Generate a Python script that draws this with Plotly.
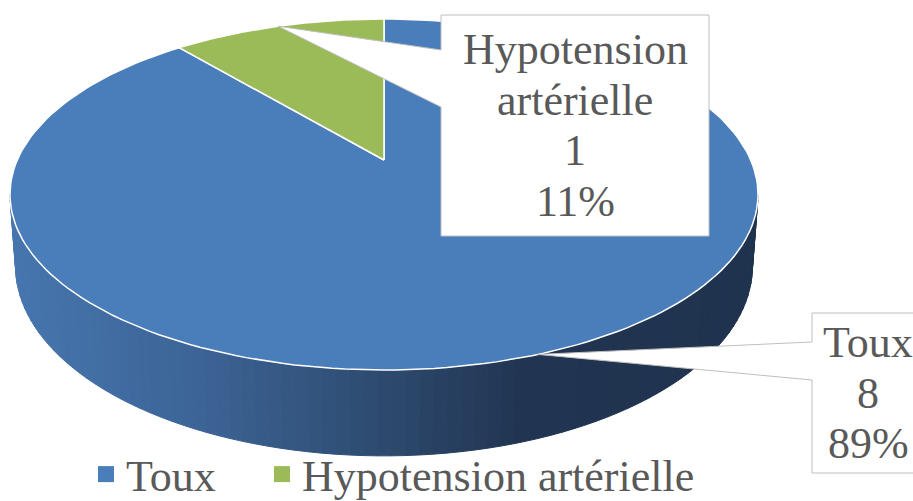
import numpy as np
import plotly.graph_objects as go

# ---------------- data ----------------
categories = ["Toux", "Hypotension artérielle"]
values = [8, 1]
colors = ["#4a7ebb", "#9bbb59"]

# ---------------- 3D pie geometry (pixel space) ----------------
CX, CY = 384.0, 160.0      # projected pie centre
A, B = 366.7, 168.7        # half axes before perspective
K = -0.1966                # perspective factor
S = 0.985                  # bottom face shrink
D0 = 69.0                  # thickness

FONT = "'Liberation Serif', 'Times New Roman', 'DejaVu Serif', serif"
TXT = "#595959"


def proj(phi_deg, bottom=False):
    p = np.radians(np.asarray(phi_deg, dtype=float))
    X = np.sin(p)
    Y = -np.cos(p)
    den = 1 + K * Y
    u = CX + A * X / den * (S if bottom else 1.0)
    v = CY + B * Y / den + (D0 / den if bottom else 0.0)
    return u, v


total = float(sum(values))
fracs = [v / total for v in values]
starts = np.concatenate([[0.0], np.cumsum(fracs)[:-1]]) * 360.0
ends = np.cumsum(fracs) * 360.0

fig = go.Figure()

# ---- side wall (visible front part) with horizontal shading ----
phi_r = np.degrees(np.arccos(K))          # right silhouette
phi_l = 360.0 - phi_r                     # left silhouette

stops = [(0.0, (70, 118, 174)), (0.25, (60, 100, 150)), (0.5, (45, 74, 110)),
         (0.68, (33, 53, 82)), (1.0, (31, 50, 78))]


def grad(t):
    t = min(max(t, 0), 1)
    for (t0, c0), (t1, c1) in zip(stops[:-1], stops[1:]):
        if t0 <= t <= t1:
            f = (t - t0) / (t1 - t0)
            c = [int(round(c0[i] + (c1[i] - c0[i]) * f)) for i in range(3)]
            return "rgb(%d,%d,%d)" % tuple(c)
    return "rgb(%d,%d,%d)" % stops[-1][1]


for si, (cat, st, en, col) in enumerate(zip(categories, starts, ends, colors)):
    lo, hi = max(st, phi_r), min(en, phi_l)
    if lo >= hi:
        continue
    edges = np.linspace(lo, hi, 90)
    for a0, a1 in zip(edges[:-1], edges[1:]):
        ph = np.linspace(a0, a1, 4)
        ut, vt = proj(ph)
        ub, vb = proj(ph[::-1], bottom=True)
        xs = np.concatenate([ut, ub, ut[:1]])
        ys = np.concatenate([vt, vb, vt[:1]])
        c = grad((ut.mean() - 10) / 748.0) if si == 0 else col
        fig.add_trace(go.Scatter(x=xs, y=ys, mode="lines", fill="toself",
                                 fillcolor=c, line=dict(color=c, width=1),
                                 hoverinfo="skip", showlegend=False))

# ---- top face slices ----
for cat, st, en, col in zip(categories, starts, ends, colors):
    ph = np.linspace(st, en, 200)
    u, v = proj(ph)
    xs = np.concatenate([[CX], u, [CX]])
    ys = np.concatenate([[CY], v, [CY]])
    fig.add_trace(go.Scatter(x=xs, y=ys, mode="lines", fill="toself",
                             fillcolor=col, line=dict(color="white", width=1.5),
                             hoverinfo="skip", showlegend=False))

# ---- legend entries (one legend box per item to reproduce spacing) ----
legend_names = ["legend", "legend2"]
for cat, col, lg in zip(categories, colors, legend_names):
    fig.add_trace(go.Scatter(x=[None], y=[None], mode="markers", name=cat,
                             legend=lg,
                             marker=dict(symbol="square", size=16, color=col)))

# ---- callout data labels ----
boxes = {"Toux": (812, 313, 924, 473, 342, 380),
         "Hypotension artérielle": (441, 15, 709, 236, 50, 107)}
shapes = []
annotations = []
for cat, val, fr, st, en in zip(categories, values, fracs, starts, ends):
    x0, y0, x1, y1, b1, b2 = boxes[cat]
    tx, ty = proj((st + en) / 2.0)
    tx, ty = float(tx), float(ty)
    path = (f"M {x0},{y0} L {x1},{y0} L {x1},{y1} L {x0},{y1} L {x0},{b2} "
            f"L {tx:.1f},{ty:.1f} L {x0},{b1} Z")
    shapes.append(dict(type="path", path=path, xref="x", yref="y",
                       fillcolor="white", line=dict(color="#bfbfbf", width=1),
                       layer="above"))
    lines = cat.split(" ") + [str(val), f"{round(fr * 100)}%"]
    n = len(lines)
    xm = (x0 + x1) / 2.0
    ym = (y0 + y1) / 2.0
    for i, t in enumerate(lines):
        annotations.append(dict(x=xm, y=ym + (i - (n - 1) / 2.0) * 50.5,
                                xref="x", yref="y", text=t, showarrow=False,
                                xanchor="center", yanchor="middle",
                                font=dict(family=FONT, size=44, color=TXT)))

leg_common = dict(orientation="h", xanchor="left", yanchor="top",
                  y=1 - 439 / 501,
                  font=dict(family=FONT, size=44, color=TXT),
                  bgcolor="rgba(0,0,0,0)", itemclick=False,
                  itemdoubleclick=False)

fig.update_layout(
    width=913, height=501,
    margin=dict(l=0, r=0, t=0, b=0, autoexpand=False),
    paper_bgcolor="white", plot_bgcolor="white",
    xaxis=dict(range=[0, 913], visible=False, fixedrange=True),
    yaxis=dict(range=[501, 0], visible=False, fixedrange=True),
    shapes=shapes, annotations=annotations,
    showlegend=True,
    legend=dict(x=86 / 913, **leg_common),
    legend2=dict(x=262 / 913, **leg_common),
)

fig.write_html("out.html")
